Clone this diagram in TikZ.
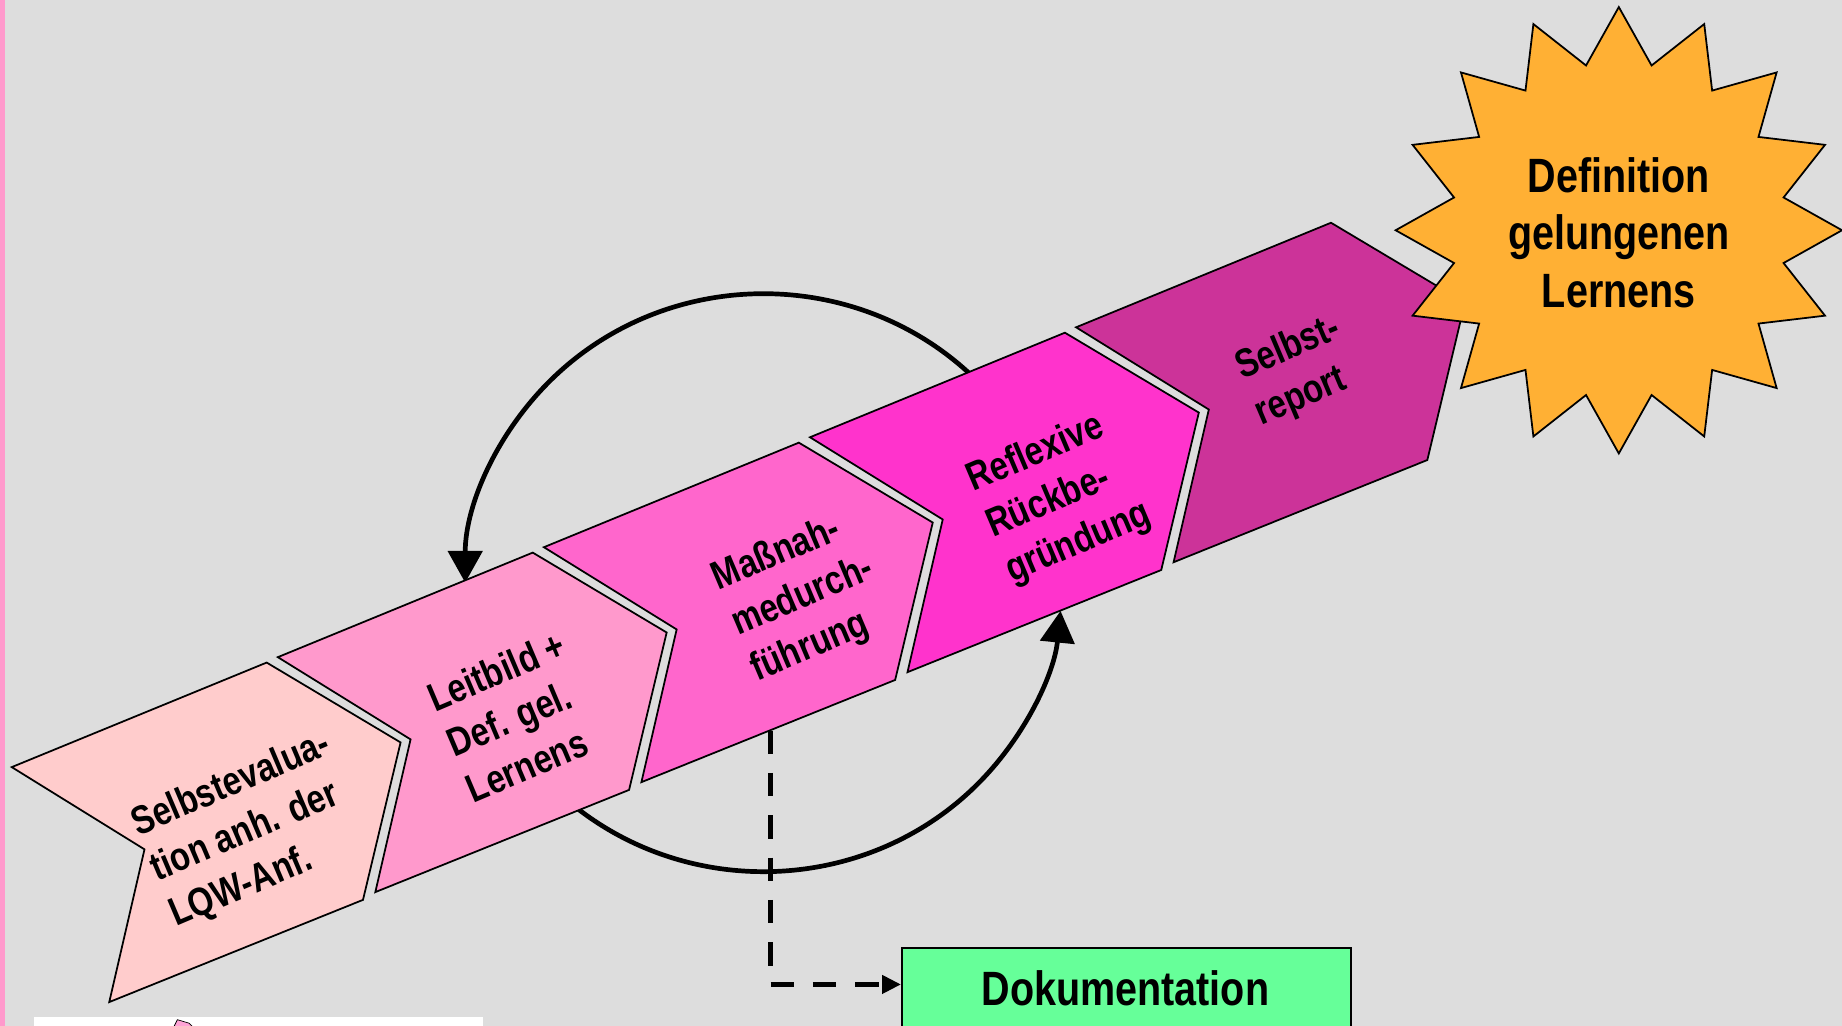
\documentclass[tikz,border=0pt]{standalone}
\usepackage{fontspec}
\newfontfamily\nb{Liberation Sans}[FakeStretch=0.82]
\usetikzlibrary{arrows.meta,calc}
\definecolor{bgcol}{HTML}{DDDDDD}
\definecolor{edgepink}{HTML}{FF99CC}
\definecolor{chA}{HTML}{FFCCCC}
\definecolor{chB}{HTML}{FF99CC}
\definecolor{chC}{HTML}{FF66CC}
\definecolor{chD}{HTML}{FF33CC}
\definecolor{chE}{HTML}{CC3399}
\definecolor{starcol}{HTML}{FFB034}
\definecolor{doccol}{HTML}{66FF99}
\newcommand\topstrut{\rule{0pt}{30pt}}
\begin{document}
\begin{tikzpicture}[x=1pt,y=-1pt,
  chevline/.style={draw=black, line width=1.5pt, line join=miter},
  ctext/.style={font=\nb\bfseries\fontsize{34}{42}\selectfont, align=left, rotate=23, inner sep=0pt, anchor=north west, text=black},
  stext/.style={font=\nb\bfseries\fontsize{41}{49}\selectfont, align=center, inner sep=0pt, text=black},
  dtext/.style={font=\nb\bfseries\fontsize{41}{49}\selectfont, inner sep=0pt, text=black},
  cycarrow/.style={line width=4pt, -{Triangle[length=27pt,width=29pt]}},
  dashline/.style={line width=4pt, dash pattern=on 20pt off 16pt, -{Triangle[length=16pt,width=15pt]}},
  docbox/.style={draw=black, line width=1.5pt, fill=doccol, minimum width=382pt, minimum height=100pt, inner sep=0pt},
  starshape/.style={draw=black, line width=1.5pt, fill=starcol, line join=miter}
]
\useasboundingbox (0,0) rectangle (1568,873);
\clip (0,0) rectangle (1568,873);
\fill[bgcol] (0,0) rectangle (1568,873);
\fill[edgepink] (0,0) rectangle (4.5,873);

% cycle arcs (behind the chevrons)
\coordinate (cyc) at (650,496);
\draw[cycarrow] (cyc) ++(-44:254 and 246) arc[start angle=-44, end angle=-180, x radius=254, y radius=246];
\draw[cycarrow] (cyc) ++(132:254 and 246) arc[start angle=132, end angle=5.6, x radius=254, y radius=246];

% chevrons
\foreach \i/\col in {0/chA,1/chB,2/chC,3/chD,4/chE}{
  \draw[chevline, fill=\col, shift={(226.5*\i,-93.6*\i)}]
    (10,653) -- (227,564) -- (341,632) -- (309,766) -- (93,853) -- (123,723) -- cycle;
}
% text blocks (left aligned, rotated)
\node[ctext] (c1) at (105.5,684) {\topstrut Selbstevalua-\\tion anh. der\\LQW-Anf.};
\node[ctext] (c2) at (358.5,578.5) {\topstrut Leitbild +\\Def. gel.\\Lernens};
\node[ctext] (c3) at (600,475) {\topstrut Maßnah-\\medurch-\\führung};
\node[ctext] (c4) at (817,391) {\topstrut Reflexive\\Rückbe-\\gründung};
\node[ctext] (c5) at (1045.5,295.5) {\topstrut Selbst-\\report};

% star
\coordinate (sc) at (1378,196);
\draw[starshape] (sc) ++(90:190)
  \foreach \k in {1,...,31}{ -- ($(sc)+(90+\k*11.25:{166.5+23.5*cos(\k*180)})$) } -- cycle;
\node[stext] (star) at (1378,198) {Definition\\gelungenen\\Lernens};

% Dokumentation
\node[docbox, anchor=north west] (doku) at (767,806) {};
\node[dtext, anchor=base] (dokut) at (958,856) {Dokumentation};
\coordinate (d0) at (656,622);
\path (doku.north west) ++(0,32) coordinate (d1);
\draw[dashline] (d0) |- (d1);

% cut-off picture at bottom left
\fill[white] (29,866) rectangle (411,880);
\draw[line width=0.6pt, fill=chA!80!magenta] (148,874) -- (151,868) -- (161,871) -- (164,874);
\end{tikzpicture}
\end{document}
